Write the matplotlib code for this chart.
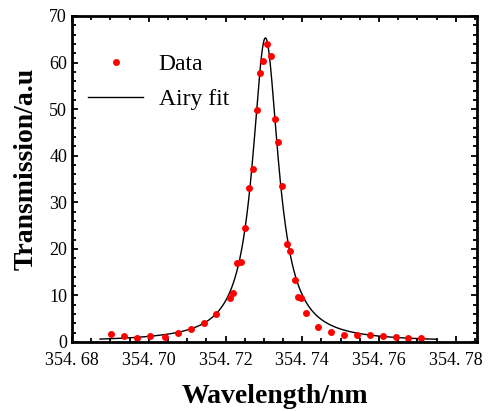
import numpy as np
import matplotlib.pyplot as plt
from matplotlib.ticker import MultipleLocator, FuncFormatter

# measured points (wavelength in nm, transmission in a.u.)
wl_data = [354.6902, 354.6936, 354.6970, 354.7003, 354.7042, 354.7077,
           354.7110, 354.7144, 354.7175, 354.7211, 354.7220, 354.7230,
           354.7241, 354.7251, 354.7260, 354.7271, 354.7281, 354.7290,
           354.7298, 354.7307, 354.7318, 354.7329, 354.7338, 354.7348,
           354.7360, 354.7368, 354.7380, 354.7389, 354.7397, 354.7410,
           354.7441, 354.7476, 354.7509, 354.7543, 354.7576, 354.7610,
           354.7643, 354.7676, 354.7709]
trans_data = [1.7, 1.3, 0.9, 1.2, 1.1, 1.9,
              2.8, 4.1, 6.1, 9.4, 10.5, 17.0,
              17.1, 24.5, 33.1, 37.1, 49.8, 57.7,
              60.4, 64.0, 61.5, 47.9, 42.9, 33.6,
              21.0, 19.6, 13.4, 9.6, 9.4, 6.2,
              3.3, 2.1, 1.6, 1.6, 1.4, 1.2,
              1.1, 0.9, 0.9]

# Airy fit parameters
peak = 65.3
center = 354.7304
fwhm = 0.0082
fsr = 0.30
fit_range = (354.6873, 354.7750)


def airy(x):
    finesse = fsr / fwhm
    F = (2 * finesse / np.pi) ** 2
    return peak / (1 + F * np.sin(np.pi * (x - center) / fsr) ** 2)


fig = plt.figure(figsize=(4.94, 4.11), dpi=100)
ax = fig.add_axes([0.1457, 0.1679, 0.8198, 0.7932])

wl_fit = np.linspace(fit_range[0], fit_range[1], 600)
ax.plot(wl_fit, airy(wl_fit), color='black', lw=1.0, label='Airy fit')
ax.plot(wl_data, trans_data, 'o', color='red', ms=5, mec='none', label='Data')

ax.set_xlim(354.68, 354.7855)
ax.set_ylim(0, 70)

ax.xaxis.set_major_locator(MultipleLocator(0.02))
ax.xaxis.set_minor_locator(MultipleLocator(0.005))
ax.yaxis.set_major_locator(MultipleLocator(10))
ax.yaxis.set_minor_locator(MultipleLocator(2))
ax.xaxis.set_major_formatter(FuncFormatter(lambda v, p: f"{v:.2f}".replace('.', '. ')))

ax.tick_params(which='both', direction='in', top=True, right=True, width=1.3)
ax.tick_params(which='major', length=4, labelsize=13)
ax.tick_params(which='minor', length=3)
ax.tick_params(axis='x', which='major', pad=7)
for lab in ax.get_xticklabels() + ax.get_yticklabels():
    lab.set_family('Liberation Serif')

for spine in ax.spines.values():
    spine.set_linewidth(2.0)

ax.set_xlabel('Wavelength/nm', fontsize=20, fontweight='bold', family='Liberation Serif')
ax.set_ylabel('Transmission/a.u', fontsize=20, fontweight='bold', family='Liberation Serif')
ax.xaxis.set_label_coords(0.5, -0.13)
ax.yaxis.set_label_coords(-0.083, 0.53)

handles, labels = ax.get_legend_handles_labels()
ax.legend(handles[::-1], labels[::-1], loc='upper left', bbox_to_anchor=(0.0395, 0.884),
          frameon=False, prop={'family': 'Liberation Serif', 'size': 17},
          borderpad=0, borderaxespad=0,
          handlelength=2.35, handletextpad=0.65, labelspacing=0.55)

fig.savefig('out.png', dpi=100)
